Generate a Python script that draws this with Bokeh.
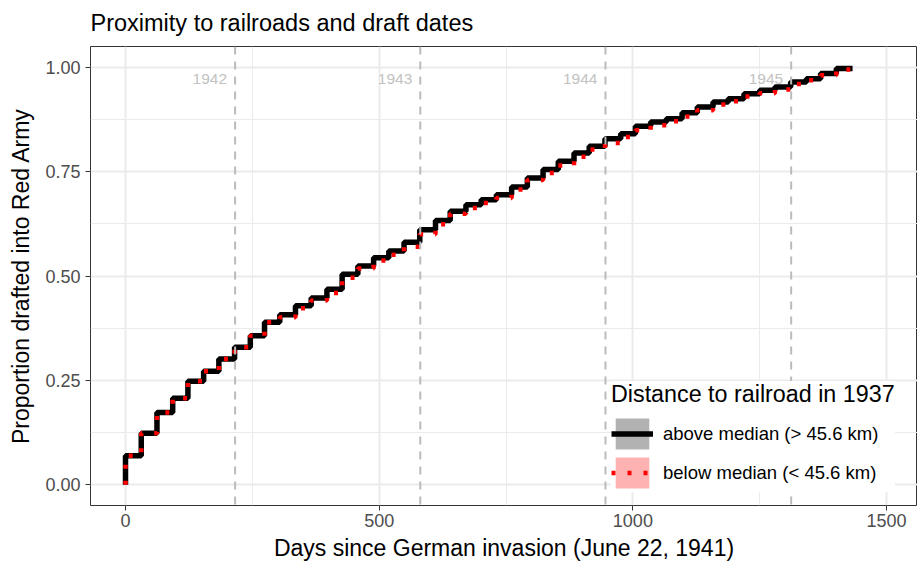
from bokeh.plotting import figure
from bokeh.models import Range1d, Span, Legend, LegendItem, FixedTicker, PrintfTickFormatter
from bokeh.embed import file_html
from bokeh.resources import INLINE
from bokeh.core.properties import value

# ---- data ----
step_days = [0, 31, 62, 93, 123, 154, 184, 215, 246, 274, 304, 335, 366, 397, 427,
             458, 489, 519, 549, 580, 611, 640, 671, 701, 731, 761, 792, 823, 853,
             884, 914, 945, 976, 1005, 1035, 1066, 1097, 1127, 1158, 1188, 1219,
             1250, 1280, 1311, 1342, 1370, 1401]
last_day = 1433
above_median = [0.069, 0.123, 0.173, 0.207, 0.248, 0.272, 0.301, 0.329, 0.357, 0.389,
                0.407, 0.429, 0.447, 0.468, 0.504, 0.524, 0.544, 0.560, 0.581, 0.611,
                0.633, 0.655, 0.671, 0.683, 0.695, 0.713, 0.735, 0.755, 0.775, 0.795,
                0.811, 0.829, 0.841, 0.859, 0.869, 0.877, 0.891, 0.905, 0.917, 0.925,
                0.937, 0.945, 0.953, 0.965, 0.973, 0.985, 0.997]
below_median = [0.069, 0.123, 0.173, 0.207, 0.248, 0.272, 0.301, 0.329, 0.357, 0.389,
                0.401, 0.423, 0.441, 0.459, 0.496, 0.518, 0.537, 0.551, 0.570, 0.600,
                0.624, 0.649, 0.663, 0.675, 0.687, 0.707, 0.730, 0.747, 0.765, 0.786,
                0.803, 0.819, 0.833, 0.849, 0.861, 0.871, 0.882, 0.897, 0.911, 0.919,
                0.930, 0.938, 0.947, 0.960, 0.969, 0.981, 0.995]
year_days = [216, 581, 946, 1312]
year_labels = ["1942", "1943", "1944", "1945"]
year_label_y = 0.973

x_ticks = [0, 500, 1000, 1500]
x_minor = [250, 750, 1250]
y_ticks = [0.0, 0.25, 0.5, 0.75, 1.0]
y_minor = [0.125, 0.375, 0.625, 0.875]

FONT = "Liberation Sans"
GRID = "#EBEBEB"

p = figure(width=917, height=565, output_backend="svg", toolbar_location=None,
           x_range=Range1d(-69, 1561), y_range=Range1d(-0.05, 1.05),
           min_border_left=90, min_border_right=0, min_border_top=46, min_border_bottom=60,
           title="Proximity to railroads and draft dates")
p.background_fill_color = "white"
p.border_fill_color = "white"
p.outline_line_color = "#333333"
p.outline_line_width = 1

p.title.text_font = FONT
p.title.text_font_size = "23.5px"
p.title.text_font_style = "normal"
p.title.text_color = "black"
p.title.vertical_align = "top"
p.title.text_baseline = "top"
p.title.standoff = 17

p.xaxis.ticker = FixedTicker(ticks=x_ticks, minor_ticks=x_minor)
p.yaxis.ticker = FixedTicker(ticks=y_ticks, minor_ticks=y_minor)
p.yaxis.formatter = PrintfTickFormatter(format="%.2f")
for ax in (p.xaxis[0], p.yaxis[0]):
    ax.axis_line_color = None
    ax.major_tick_out = 5
    ax.major_tick_in = 0
    ax.major_tick_line_color = "#333333"
    ax.minor_tick_line_color = None
    ax.major_label_text_font = FONT
    ax.major_label_text_font_size = "18px"
    ax.major_label_text_color = "#4D4D4D"
    ax.axis_label_text_font = FONT
    ax.axis_label_text_font_size = "23px"
    ax.axis_label_text_font_style = "normal"
    ax.axis_label_text_color = "black"
p.xaxis.major_label_standoff = 3
p.xaxis.axis_label_standoff = 5
p.yaxis.major_label_standoff = 5
p.yaxis.axis_label_standoff = 8
p.xaxis.axis_label = "Days since German invasion (June 22, 1941)"
p.yaxis.axis_label = "Proportion drafted into Red Army"

for g in (p.xgrid[0], p.ygrid[0]):
    g.grid_line_color = GRID
    g.grid_line_width = 2
    g.minor_grid_line_color = GRID
    g.minor_grid_line_width = 1

for d in year_days:
    p.add_layout(Span(location=d, dimension="height", line_color="#BBBBBB",
                      line_width=2, line_dash="8 7"))

p.text(x=year_days, y=[year_label_y] * len(year_days), text=year_labels,
       text_align="right", text_baseline="middle", x_offset=-8,
       text_color="#C2C2C2", text_font=value(FONT), text_font_size="15.5px")

xs = [0] + step_days + [last_day]
ya = [0] + above_median + [above_median[-1]]
yb = [0] + below_median + [below_median[-1]]

# zero-width ribbons: invisible in the panel, give the legend keys their fill
fill_a = p.varea_step(x=xs, y1=ya, y2=ya, step_mode="after", fill_color="black", fill_alpha=0.3)
fill_b = p.varea_step(x=xs, y1=yb, y2=yb, step_mode="after", fill_color="red", fill_alpha=0.3)
r_a = p.step(xs, ya, mode="after", line_color="black", line_width=5.5)
r_b = p.step(xs, yb, mode="after", line_color="red", line_width=4.5, line_dash="4 12")

legend = Legend(items=[
    LegendItem(label="above median (> 45.6 km)", renderers=[fill_a, r_a]),
    LegendItem(label="below median (< 45.6 km)", renderers=[fill_b, r_b]),
], location=(521, 13), title="Distance to railroad in 1937")
legend.title_text_font = FONT
legend.title_text_font_size = "23.3px"
legend.title_text_font_style = "normal"
legend.title_text_color = "black"
legend.title_standoff = 6
legend.label_text_font = FONT
legend.label_text_font_size = "18.5px"
legend.label_text_color = "black"
legend.glyph_width = 42
legend.glyph_height = 39
legend.spacing = 0
legend.padding = 11
legend.margin = 0
legend.label_standoff = 10
legend.border_line_color = None
legend.background_fill_color = "white"
legend.background_fill_alpha = 1
p.add_layout(legend)

open("out.html", "w").write(file_html(p, INLINE))
